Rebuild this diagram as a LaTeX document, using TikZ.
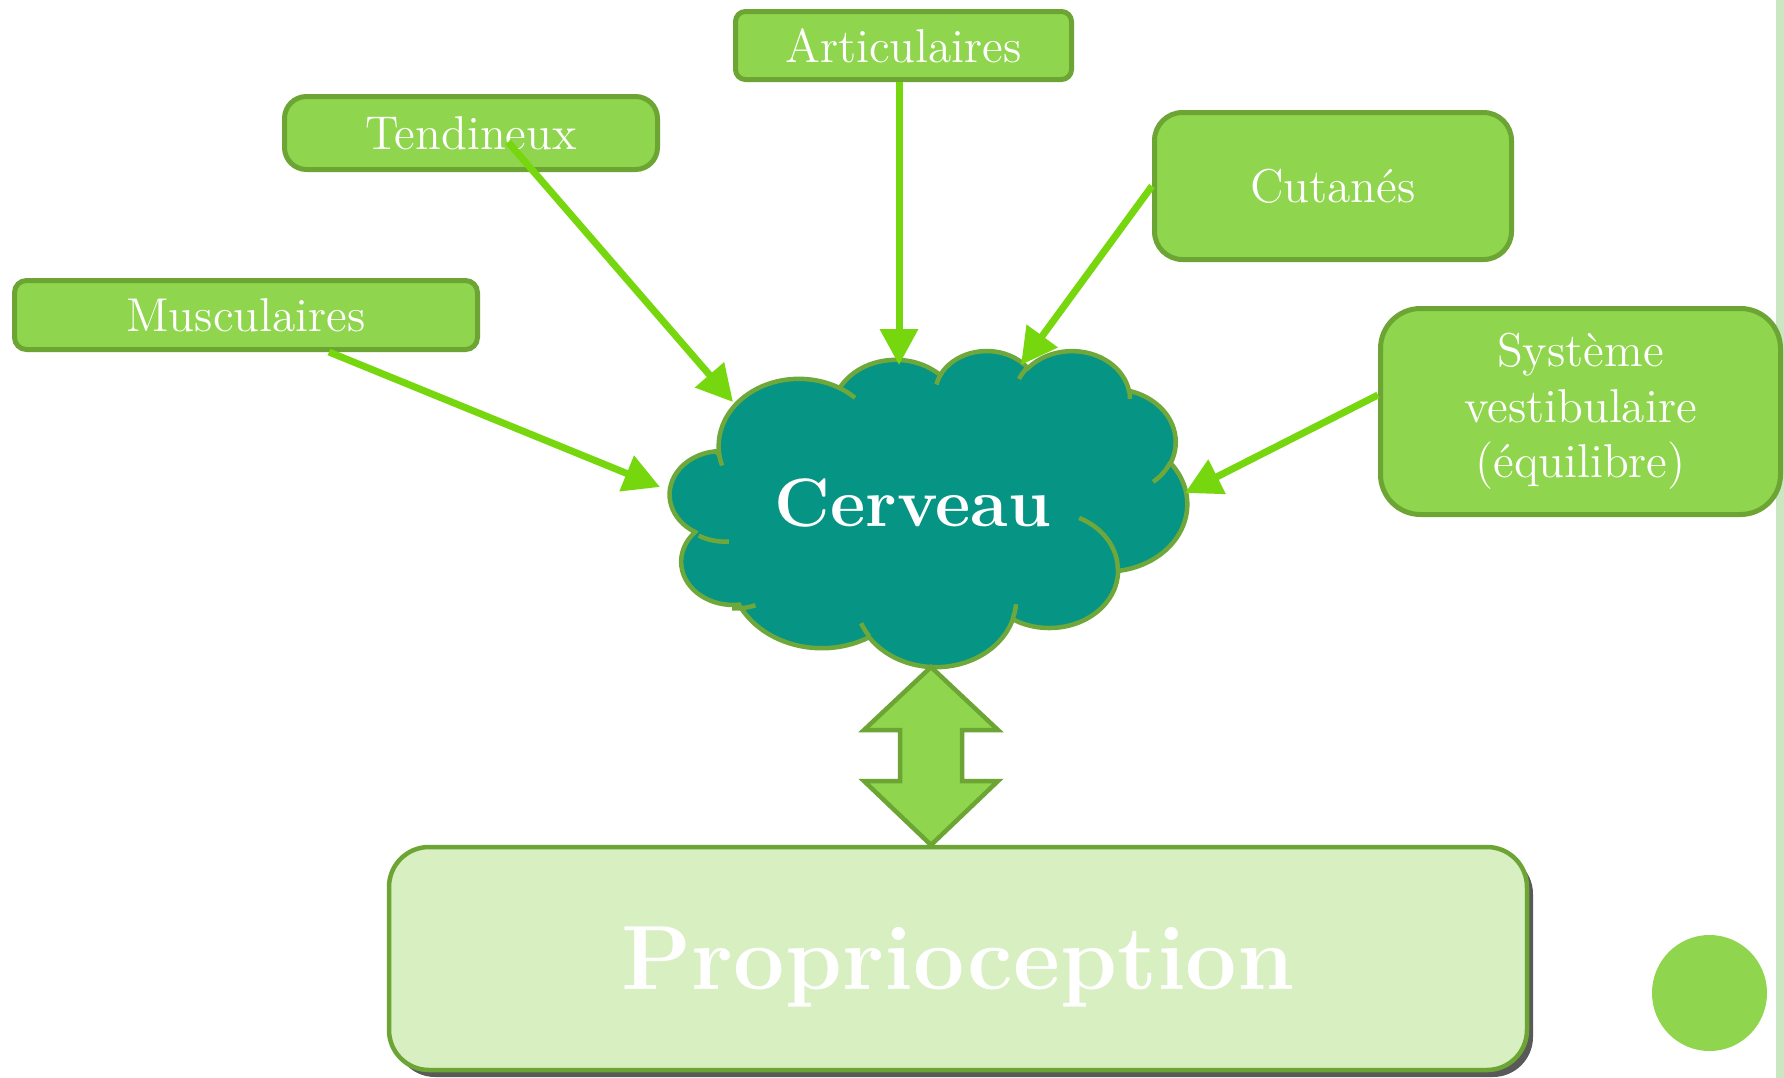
\documentclass[tikz,border=0pt]{standalone}
\usepackage{fontspec}
\usetikzlibrary{arrows.meta,shadows,calc}
\definecolor{boxfill}{HTML}{8FD64E}
\definecolor{boxline}{HTML}{6CA534}
\definecolor{conncol}{HTML}{77D70F}
\definecolor{cloudfill}{HTML}{069484}
\definecolor{cloudline}{HTML}{6FA83A}
\definecolor{propfill}{HTML}{D7EFC1}
\definecolor{stripecol}{HTML}{C9E7C1}
\definecolor{dotcol}{HTML}{8FD64E}
\newcommand{\ooarc}[4]{%
  \pgfextra{%
    \pgfmathsetmacro\ooA{atan2((#1)*sin(#3),(#2)*cos(#3))}\global\let\ooA\ooA
    \pgfmathsetmacro\ooB{atan2((#1)*sin((#3)+(#4)),(#2)*cos((#3)+(#4)))}\global\let\ooB\ooB
    \pgfmathsetmacro\ooD{mod(\ooB-\ooA+720,360)}\global\let\ooD\ooD
  }%
  arc[x radius=#1, y radius=#2, start angle=\ooA, delta angle=\ooD]}
\tikzset{
  srcbox/.style={draw=boxline, fill=boxfill, line width=0.5mm, text=white,
    align=center, inner sep=0pt, font=\fontsize{13.5}{15.8}\selectfont},
  conn/.style={draw=conncol, line width=0.7mm,
    -{Triangle[length=3.6mm,width=3.7mm]}},
  cloudbody/.style={draw=cloudline, fill=cloudfill, line width=0.45mm},
  cloudinner/.style={draw=cloudline, line width=0.45mm},
}
\begin{document}
\begin{tikzpicture}[x=0.1mm, y=-0.1mm]
\useasboundingbox (0,0) rectangle (1784,1078);
\fill[white] (0,0) rectangle (1784,1078);
% side stripe and dot
\fill[stripecol] (1776,0) rectangle (1784,1078);
\fill[dotcol] (1709.5,993) ellipse [x radius=57.5, y radius=58];

% cloud
\begin{scope}[shift={(673,350)}, xscale=1.1900, yscale=0.7315]
\path[cloudbody] (39.00,143.70)
  \ooarc{67.53}{91.90}{-190.4875}{123.7805}
  \ooarc{53.33}{72.67}{-144.1024}{89.9452}
  \ooarc{43.65}{59.45}{-145.8079}{99.7230}
  \ooarc{48.57}{65.95}{-130.9861}{117.2417}
  \ooarc{53.33}{72.73}{-78.7089}{109.0269}
  \ooarc{67.75}{92.20}{-46.2673}{130.2690}
  \ooarc{57.85}{78.67}{0.6250}{114.0333}
  \ooarc{67.52}{92.15}{22.4516}{115.1726}
  \ooarc{77.20}{105.43}{66.2426}{80.3543}
  \ooarc{43.60}{59.18}{-274.9421}{146.7356}
  \ooarc{43.45}{59.45}{-246.8285}{152.5189}
  -- cycle;
\path[cloudinner]
  (46.93,261.77) \ooarc{43.45}{59.45}{86.7420}{26.4295}
  (69.28,348.99) \ooarc{43.60}{59.18}{73.6105}{19.7749}
  (164.78,390.90) \ooarc{67.52}{92.15}{137.6242}{14.0811}
  (288.27,347.51) \ooarc{67.52}{92.15}{6.4533}{15.9984}
  (341.29,229.54) \ooarc{57.85}{78.67}{-70.2924}{70.9174}
  (417.98,153.54) \ooarc{53.33}{72.73}{30.3181}{27.7515}
  (383.24,54.26) \ooarc{48.57}{65.95}{-13.7443}{14.8589}
  (290.78,39.52) \ooarc{48.57}{65.95}{-149.1815}{18.1954}
  (221.41,47.20) \ooarc{43.65}{59.45}{-163.4943}{20.7618}
  (140.00,51.92) \ooarc{67.53}{91.90}{-66.7070}{12.3194}
  (41.27,157.89) \ooarc{67.53}{91.90}{155.9255}{11.8519};
\end{scope}
\node[text=white, font=\fontsize{19.5}{23}\selectfont\bfseries] (cer) at (913,503) {Cerveau};

% source boxes
\node[srcbox, minimum width=33.6mm, minimum height=6.8mm, rounded corners=1mm] (art) at (903.5,45.5) {Articulaires};
\node[srcbox, minimum width=37.3mm, minimum height=7.3mm, rounded corners=2.2mm] (tend) at (471,133) {Tendineux};
\node[srcbox, minimum width=35.7mm, minimum height=14.7mm, rounded corners=2.8mm] (cut) at (1333,186) {Cutanés};
\node[srcbox, minimum width=46.3mm, minimum height=6.9mm, rounded corners=1.2mm] (mus) at (246,315) {Musculaires};
\node[srcbox, minimum width=40.0mm, minimum height=20.6mm, rounded corners=4mm] (sys) at (1580.5,411.5) {Système\\vestibulaire\\(équilibre)};

% double arrow
\draw[line width=0.45mm, draw=boxline, fill=boxfill, line join=miter]
  (931,667) -- (998,730) -- (962,730) -- (962,781) -- (998,781) -- (931,845)
  -- (864,781) -- (900,781) -- (900,730) -- (864,730) -- cycle;

% result box
\node[draw=boxline, fill=propfill, line width=0.45mm, rounded corners=4mm,
  minimum width=113.8mm, minimum height=22.3mm, inner sep=0pt, text=white,
  font=\fontsize{26}{30}\selectfont\bfseries, text depth=0pt,
  drop shadow={shadow xshift=0.6mm, shadow yshift=-0.7mm, fill=black!72, opacity=0.9}]
  (prop) at (958,958.5) {Proprioception};

% connectors
\coordinate (tA) at (899,365);
\coordinate (tT) at (733,402);
\coordinate (tC) at (1021,365);
\coordinate (tM) at (660,487);
\coordinate (tS) at (1185,493);
\draw[conn] (art.south -| tA) -- (tA);
\draw[conn] ([xshift=3.7mm,yshift=-0.9mm]tend.center) -- (tT);
\draw[conn] (cut.west) -- (tC);
\draw[conn] ([xshift=8.3mm]mus.south) -- (tM);
\draw[conn] ([yshift=1.65mm]sys.west) -- (tS);
\end{tikzpicture}
\end{document}
